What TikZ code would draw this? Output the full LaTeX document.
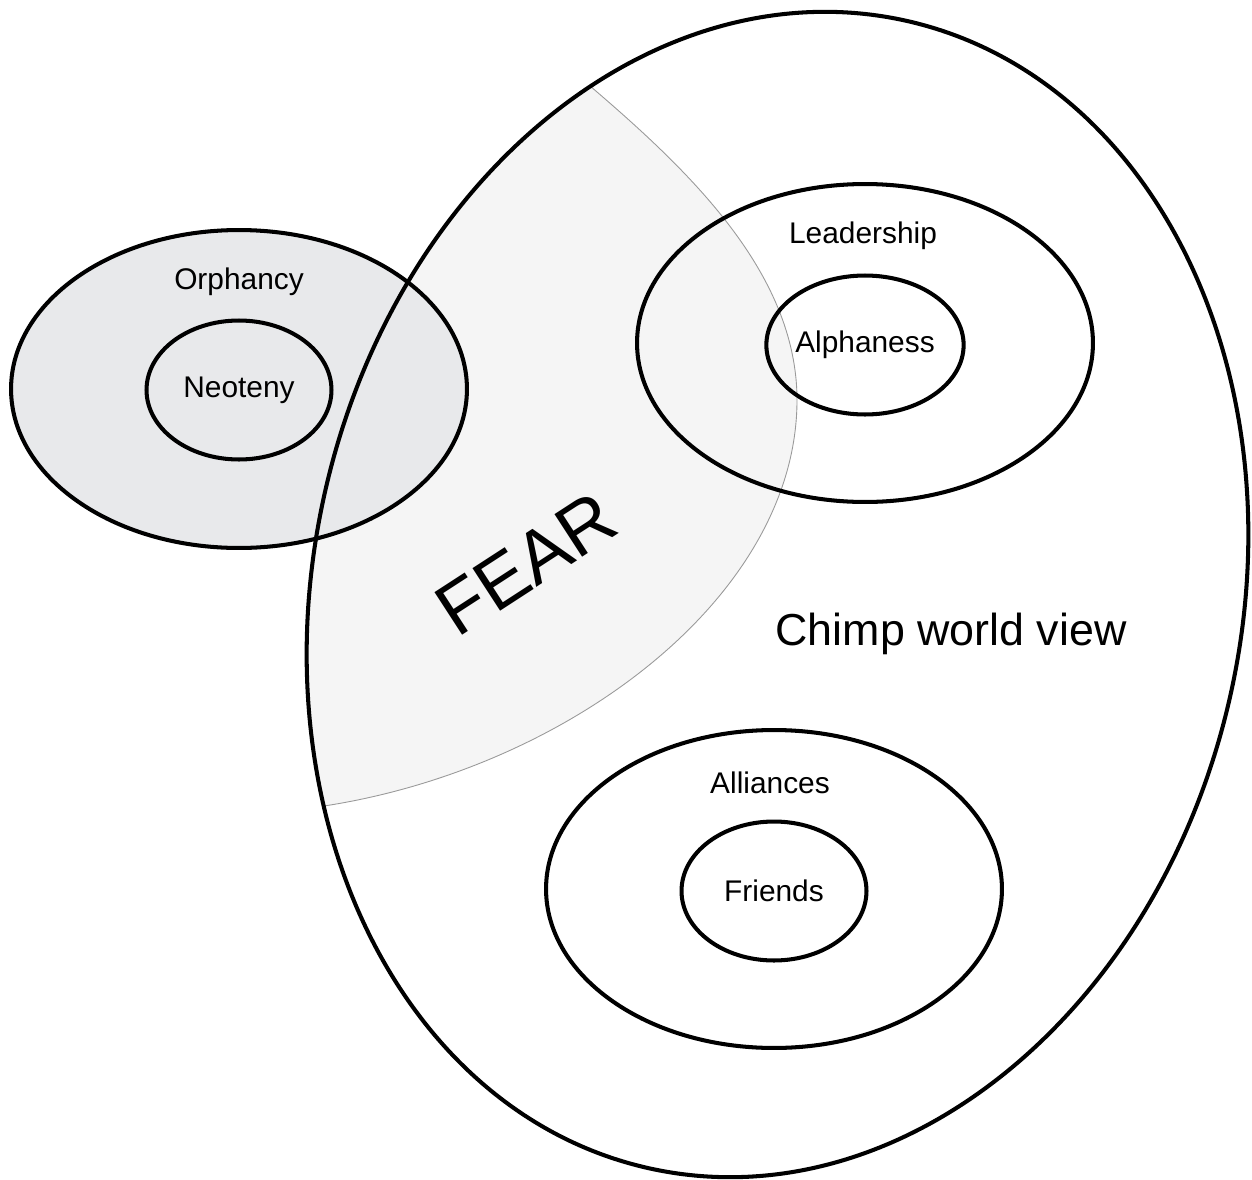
\documentclass[tikz,border=0pt]{standalone}
\usepackage{fontspec}
\setmainfont{Liberation Sans}
\usetikzlibrary{shapes.geometric}

\definecolor{orphfill}{HTML}{E8E9EB}
\definecolor{fearfill}{HTML}{F5F5F5}
\definecolor{fearline}{HTML}{9A9A9A}

\begin{document}
\begin{tikzpicture}[x=0.02cm, y=-0.02cm,
  outer/.style={ellipse, draw, line width=2.3pt, inner sep=0pt, minimum width=9.12cm, minimum height=6.36cm},
  inner/.style={ellipse, draw, line width=2.3pt, inner sep=0pt, minimum width=3.7cm, minimum height=2.78cm, font=\fontsize{17}{20}\selectfont},
  lbl/.style={font=\fontsize{17}{20}\selectfont},
  tilt/.style={rotate around={-12.7:(777.5,594.5)}},
  world/.style={tilt, line width=2.3pt}]
\useasboundingbox (0,0) rectangle (1252,1180);
% fear zone, cut to the world view
\begin{scope}
  \clip[tilt] (777.5,594.5) ellipse [x radius=464, y radius=588];
  \fill[fearfill] (583,80) .. controls (683.5,165.5) and (797,270) .. (797,400)
    .. controls (797,600) and (560,775) .. (310,808)
    -- (200,808) -- (200,0) -- (583,0) -- cycle;
  \draw[fearline, line width=0.5pt] (583,80) .. controls (683.5,165.5) and (797,270) .. (797,400)
    .. controls (797,600) and (560,775) .. (310,808);
\end{scope}
\node[outer, fill=orphfill] (orphancy) at (239,389) {};
\node[inner] (neoteny) at (239,390) {Neoteny};
\node[lbl] (orphancylbl) at (239,282) {Orphancy};
% world view outline
\draw[world] (777.5,594.5) ellipse [x radius=464, y radius=588];
\node[outer] (leadership) at (865,343) {};
\node[inner] (alphaness) at (865,345) {Alphaness};
\node[lbl] (leadershiplbl) at (863,236) {Leadership};
\node[outer] (alliances) at (774,889) {};
\node[inner] (friends) at (774,891) {Friends};
\node[lbl] (allianceslbl) at (770,783) {Alliances};
\node[font=\fontsize{42}{48}\selectfont, rotate=33] (fear) at (526,564) {FEAR};
\node[font=\fontsize{25.5}{30}\selectfont] (chimp) at (951,634) {Chimp world view};
\end{tikzpicture}
\end{document}
